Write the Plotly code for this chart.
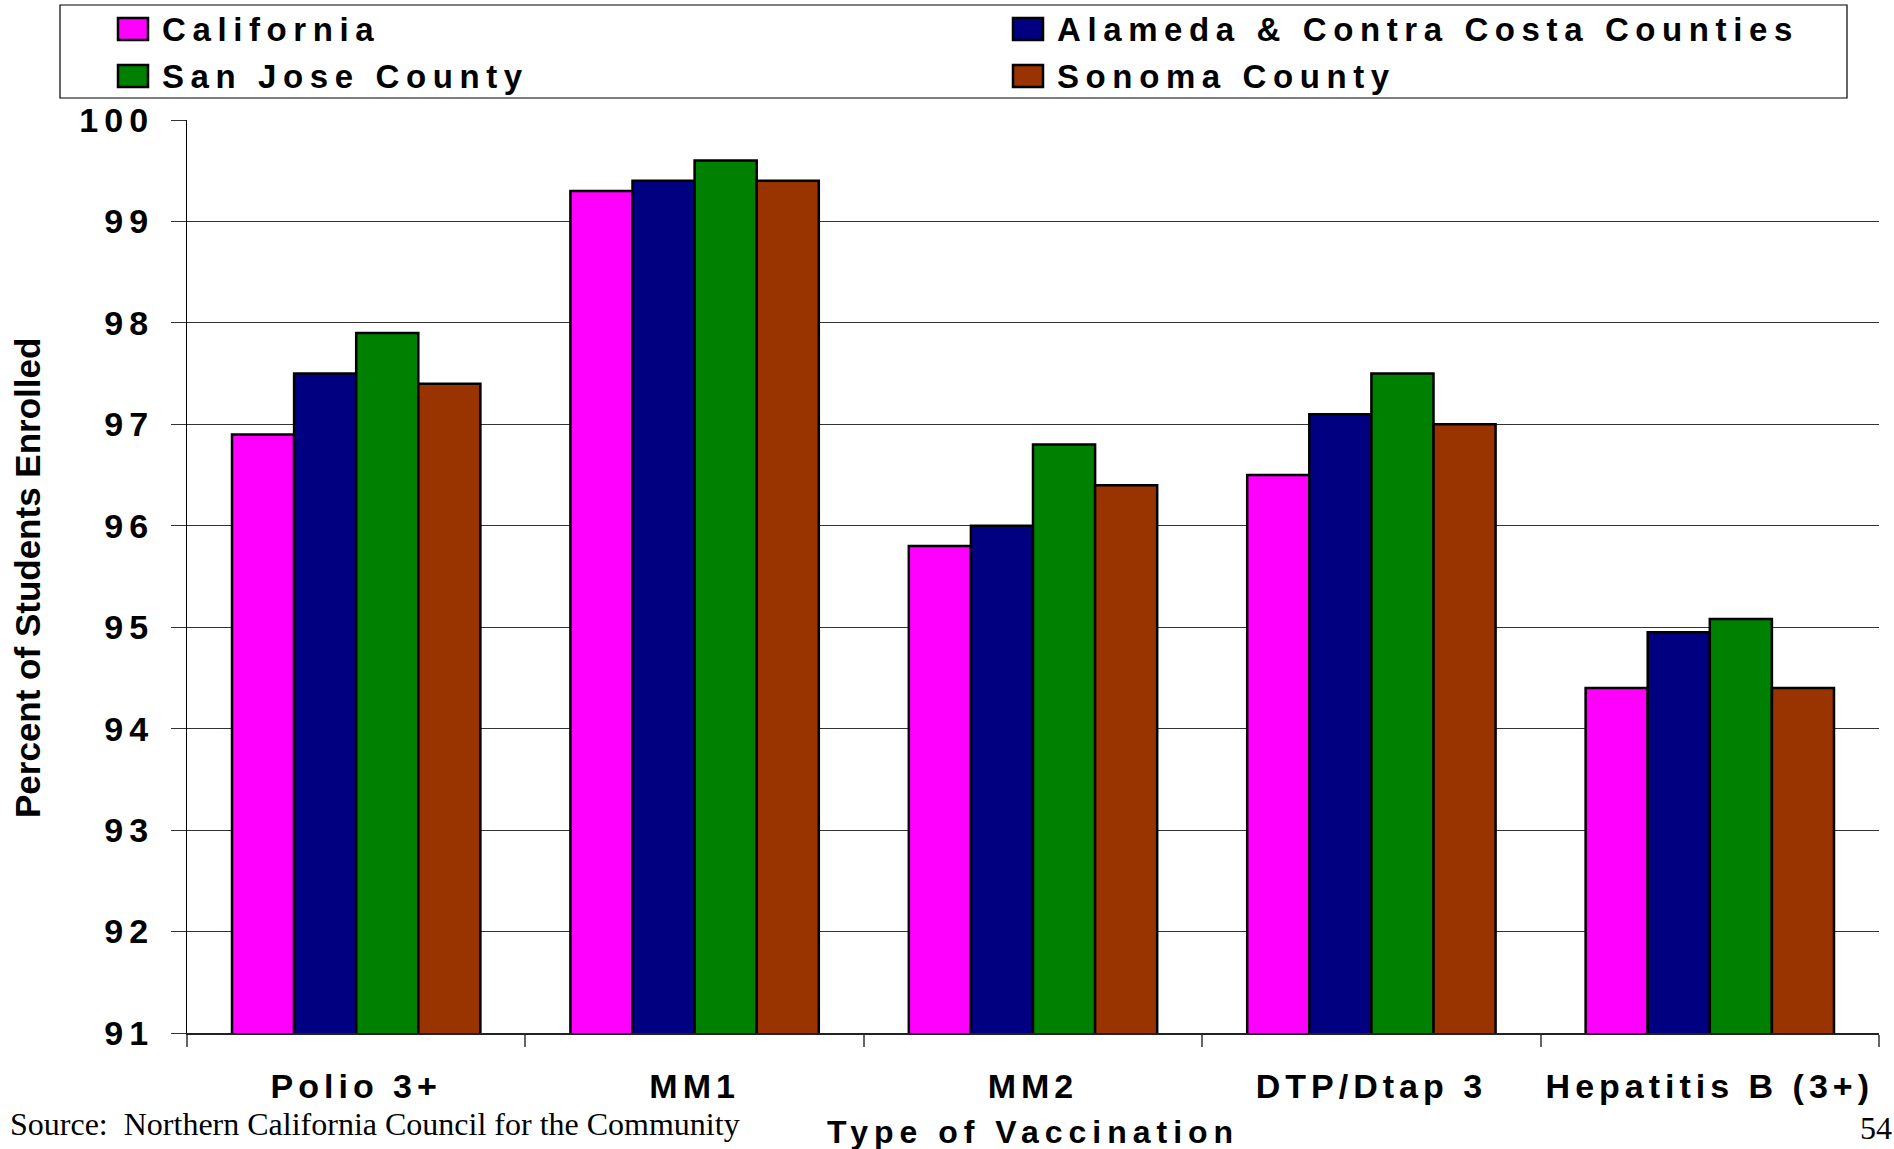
import plotly.graph_objects as go

# Vaccination coverage by region (percent of students enrolled)
categories = ["Polio 3+", "MM1", "MM2", "DTP/Dtap 3", "Hepatitis B (3+)"]
series_names = ["California", "Alameda & Contra Costa Counties", "San Jose County", "Sonoma County"]
california = [96.9, 99.3, 95.8, 96.5, 94.4]
alameda_contra_costa = [97.5, 99.4, 96.0, 97.1, 94.95]
san_jose = [97.9, 99.6, 96.8, 97.5, 95.08]
sonoma = [97.4, 99.4, 96.4, 97.0, 94.4]
series_values = [california, alameda_contra_costa, san_jose, sonoma]
series_colors = ["#FF00FF", "#000080", "#008000", "#993300"]
y_tick_values = [91, 92, 93, 94, 95, 96, 97, 98, 99, 100]

W, H = 1894, 1149
L, R, T, B = 187, 15, 120, 116
PW, PH = W - L - R, H - T - B

SANS = "Liberation Sans, Arial, Helvetica, sans-serif"
SERIF = "Liberation Serif, Times New Roman, serif"


def spaced(text, px):
    return f"<span style='letter-spacing:{px}px'>{text}</span>"


def xp(px):
    return (px - L) / PW


def yp(py):
    return (H - B - py) / PH


fig = go.Figure()
for name, vals, col in zip(series_names, series_values, series_colors):
    fig.add_trace(go.Bar(
        x=categories, y=vals, name=name,
        marker=dict(color=col, line=dict(color="#000000", width=2.5)),
        showlegend=False,
    ))

shapes = []
annotations = []

# legend frame with two columns of entries
shapes.append(dict(type="rect", xref="paper", yref="paper",
                   x0=xp(60), x1=xp(1847), y0=yp(98), y1=yp(5),
                   line=dict(color="#000000", width=1.2), fillcolor="white", layer="above"))
legend_cols = [118, 1013]
legend_rows = [29, 76]
for i, (name, col) in enumerate(zip(series_names, series_colors)):
    cx = legend_cols[i % 2]
    cy = legend_rows[i // 2]
    shapes.append(dict(type="rect", xref="paper", yref="paper",
                       x0=xp(cx), x1=xp(cx + 30), y0=yp(cy + 11), y1=yp(cy - 11),
                       line=dict(color="#000000", width=2.5), fillcolor=col, layer="above"))
    annotations.append(dict(xref="paper", yref="paper", x=xp(cx + 42), y=yp(cy),
                            xanchor="left", yanchor="middle", showarrow=False,
                            text=spaced(name, 6.6),
                            font=dict(family=SANS, size=33, color="#000000", weight="bold")))

# axis titles
annotations.append(dict(xref="paper", yref="paper", x=xp(27), y=yp(578),
                        xanchor="center", yanchor="middle", showarrow=False, textangle=-90,
                        text="Percent of Students Enrolled",
                        font=dict(family=SANS, size=35, color="#000000", weight="bold")))
annotations.append(dict(xref="paper", yref="paper", x=xp(1033), y=yp(1132),
                        xanchor="center", yanchor="middle", showarrow=False,
                        text=spaced("Type of Vaccination", 6),
                        font=dict(family=SANS, size=32, color="#000000", weight="bold")))
# source note and page number
annotations.append(dict(xref="paper", yref="paper", x=xp(8), y=yp(1124),
                        xanchor="left", yanchor="middle", showarrow=False,
                        text="Source:  Northern California Council for the Community",
                        font=dict(family=SERIF, size=32, color="#000000")))
annotations.append(dict(xref="paper", yref="paper", x=xp(1894), y=yp(1128),
                        xanchor="right", yanchor="middle", showarrow=False,
                        text="54",
                        font=dict(family=SERIF, size=32, color="#000000")))

fig.update_layout(
    width=W, height=H,
    margin=dict(l=L, r=R, t=T, b=B),
    paper_bgcolor="white", plot_bgcolor="white",
    barmode="group", bargap=0.266, bargroupgap=0,
    shapes=shapes, annotations=annotations,
    xaxis=dict(
        tickmode="array", tickvals=categories,
        ticktext=[spaced(c, 5) for c in categories],
        tickson="boundaries", ticks="outside", ticklen=12, tickwidth=1.5, tickcolor="#666666",
        showline=True, linecolor="#222222", linewidth=2,
        showgrid=False, ticklabelstandoff=22,
        tickfont=dict(family=SANS, size=34, color="#000000", weight="bold"),
    ),
    yaxis=dict(
        range=[91, 100], tickmode="array", tickvals=y_tick_values,
        ticktext=[spaced(str(v), 6) for v in y_tick_values],
        ticks="outside", ticklen=15, tickwidth=1.2, tickcolor="#333333",
        showline=True, linecolor="#000000", linewidth=1.2,
        showgrid=True, gridcolor="#333333", gridwidth=1.2,
        zeroline=False, ticklabelstandoff=10,
        tickfont=dict(family=SANS, size=34, color="#000000", weight="bold"),
    ),
)

fig.write_html("out.html")
